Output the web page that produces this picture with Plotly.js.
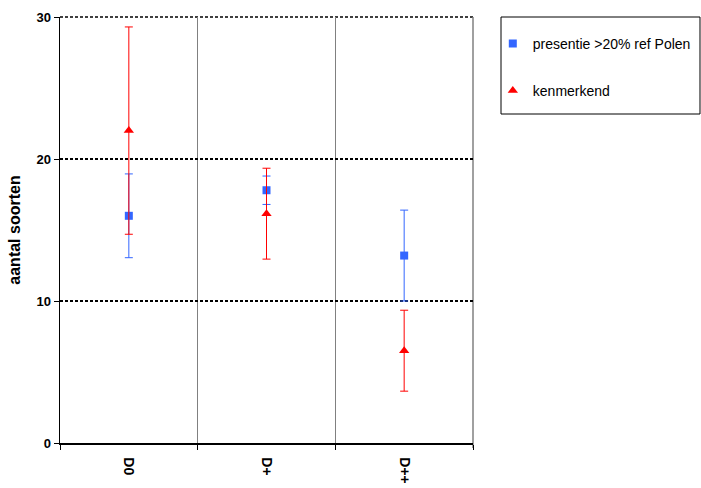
<!DOCTYPE html>
<html>
<head>
<meta charset="utf-8">
<script src="https://cdn.plot.ly/plotly-3.0.1.min.js"></script>
<style>html,body{margin:0;padding:0;background:#fff;}#chart{width:701px;height:488px;}</style>
</head>
<body>
<div id="chart"></div>
<script>
var categories = ['D0', 'D+', 'D++'];
var presentieValues = [16.0, 17.8, 13.2];
var presentieErrors = [2.95, 1.0, 3.2];
var kenmerkendValues = [22.0, 16.15, 6.5];
var kenmerkendErrors = [7.3, 3.2, 2.85];
var seriesNames = ['presentie >20% ref Polen', 'kenmerkend'];
var yTicks = [0, 10, 20, 30];

var font = 'Liberation Sans, Arial, sans-serif';

var traces = [
  {
    type: 'scatter', mode: 'markers', x: categories, y: presentieValues,
    name: seriesNames[0], legendgroup: 'a',
    marker: {symbol: 'square', size: 8, color: '#3366FF'},
    error_y: {type: 'data', array: presentieErrors, visible: true, color: '#3366FF', thickness: 1, width: 4},
    hoverinfo: 'none'
  },
  {
    type: 'scatter', mode: 'markers', x: categories, y: kenmerkendValues,
    name: seriesNames[1], legendgroup: 'b',
    marker: {symbol: 'triangle-up', size: 9, color: '#FF0000'},
    error_y: {type: 'data', array: kenmerkendErrors, visible: true, color: '#FF0000', thickness: 1, width: 4},
    hoverinfo: 'none'
  }
];

var yMax = yTicks[yTicks.length - 1];

var layout = {
  width: 701, height: 488,
  margin: {l: 60, r: 228, t: 17, b: 45, pad: 0},
  paper_bgcolor: '#ffffff', plot_bgcolor: '#ffffff',
  font: {family: font, color: '#000000'},
  showlegend: true,
  legend: {
    xref: 'container', yref: 'container',
    x: 0.703, xanchor: 'left', y: 0.943, yanchor: 'top',
    bgcolor: 'rgba(0,0,0,0)', borderwidth: 0,
    font: {family: font, size: 14, color: '#000'},
    traceorder: 'grouped', tracegroupgap: 26, itemwidth: 30
  },
  xaxis: {
    type: 'category', range: [-0.5, 2.5], fixedrange: true,
    tickson: 'boundaries', ticks: 'outside', ticklen: 5, tickcolor: '#000', tickwidth: 1,
    showgrid: true, gridcolor: '#808080', gridwidth: 1.5,
    showline: true, linecolor: '#000', linewidth: 1.5,
    tickangle: 90, ticklabelstandoff: 10,
    tickfont: {family: font, size: 14, color: '#000', weight: 'bold'},
    zeroline: false
  },
  yaxis: {
    range: [0, yMax], tickvals: yTicks, ticktext: yTicks.map(String), fixedrange: true,
    ticks: 'outside', ticklen: 5, tickcolor: '#000', tickwidth: 1,
    showgrid: true, gridcolor: '#000', gridwidth: 1.5, griddash: '3px,2px',
    showline: true, linecolor: '#000', linewidth: 1.5, zeroline: false,
    tickfont: {family: font, size: 13, color: '#000', weight: 'bold'},
    title: {text: 'aantal soorten', font: {family: font, size: 16, color: '#000', weight: 'bold'}, standoff: 12}
  },
  shapes: [
    // top gridline at the max tick (Plotly drops the gridline at the axis end)
    {type: 'line', xref: 'paper', yref: 'paper', x0: 0, x1: 1, y0: 1, y1: 1,
     line: {color: '#000', width: 1.5, dash: '3px,2px'}, layer: 'below'},
    // right boundary gridline
    {type: 'line', xref: 'paper', yref: 'paper', x0: 1, x1: 1, y0: -0.012, y1: 1,
     line: {color: '#808080', width: 1.5}, layer: 'below'},
    // legend frame
    {type: 'rect', xref: 'paper', yref: 'paper', x0: 1.0678, x1: 1.5496, y0: 0.7723, y1: 1.0,
     line: {color: '#000', width: 1}, fillcolor: 'rgba(0,0,0,0)'}
  ]
};

Plotly.newPlot('chart', traces, layout, {displayModeBar: false, staticPlot: true});
</script>
</body>
</html>
